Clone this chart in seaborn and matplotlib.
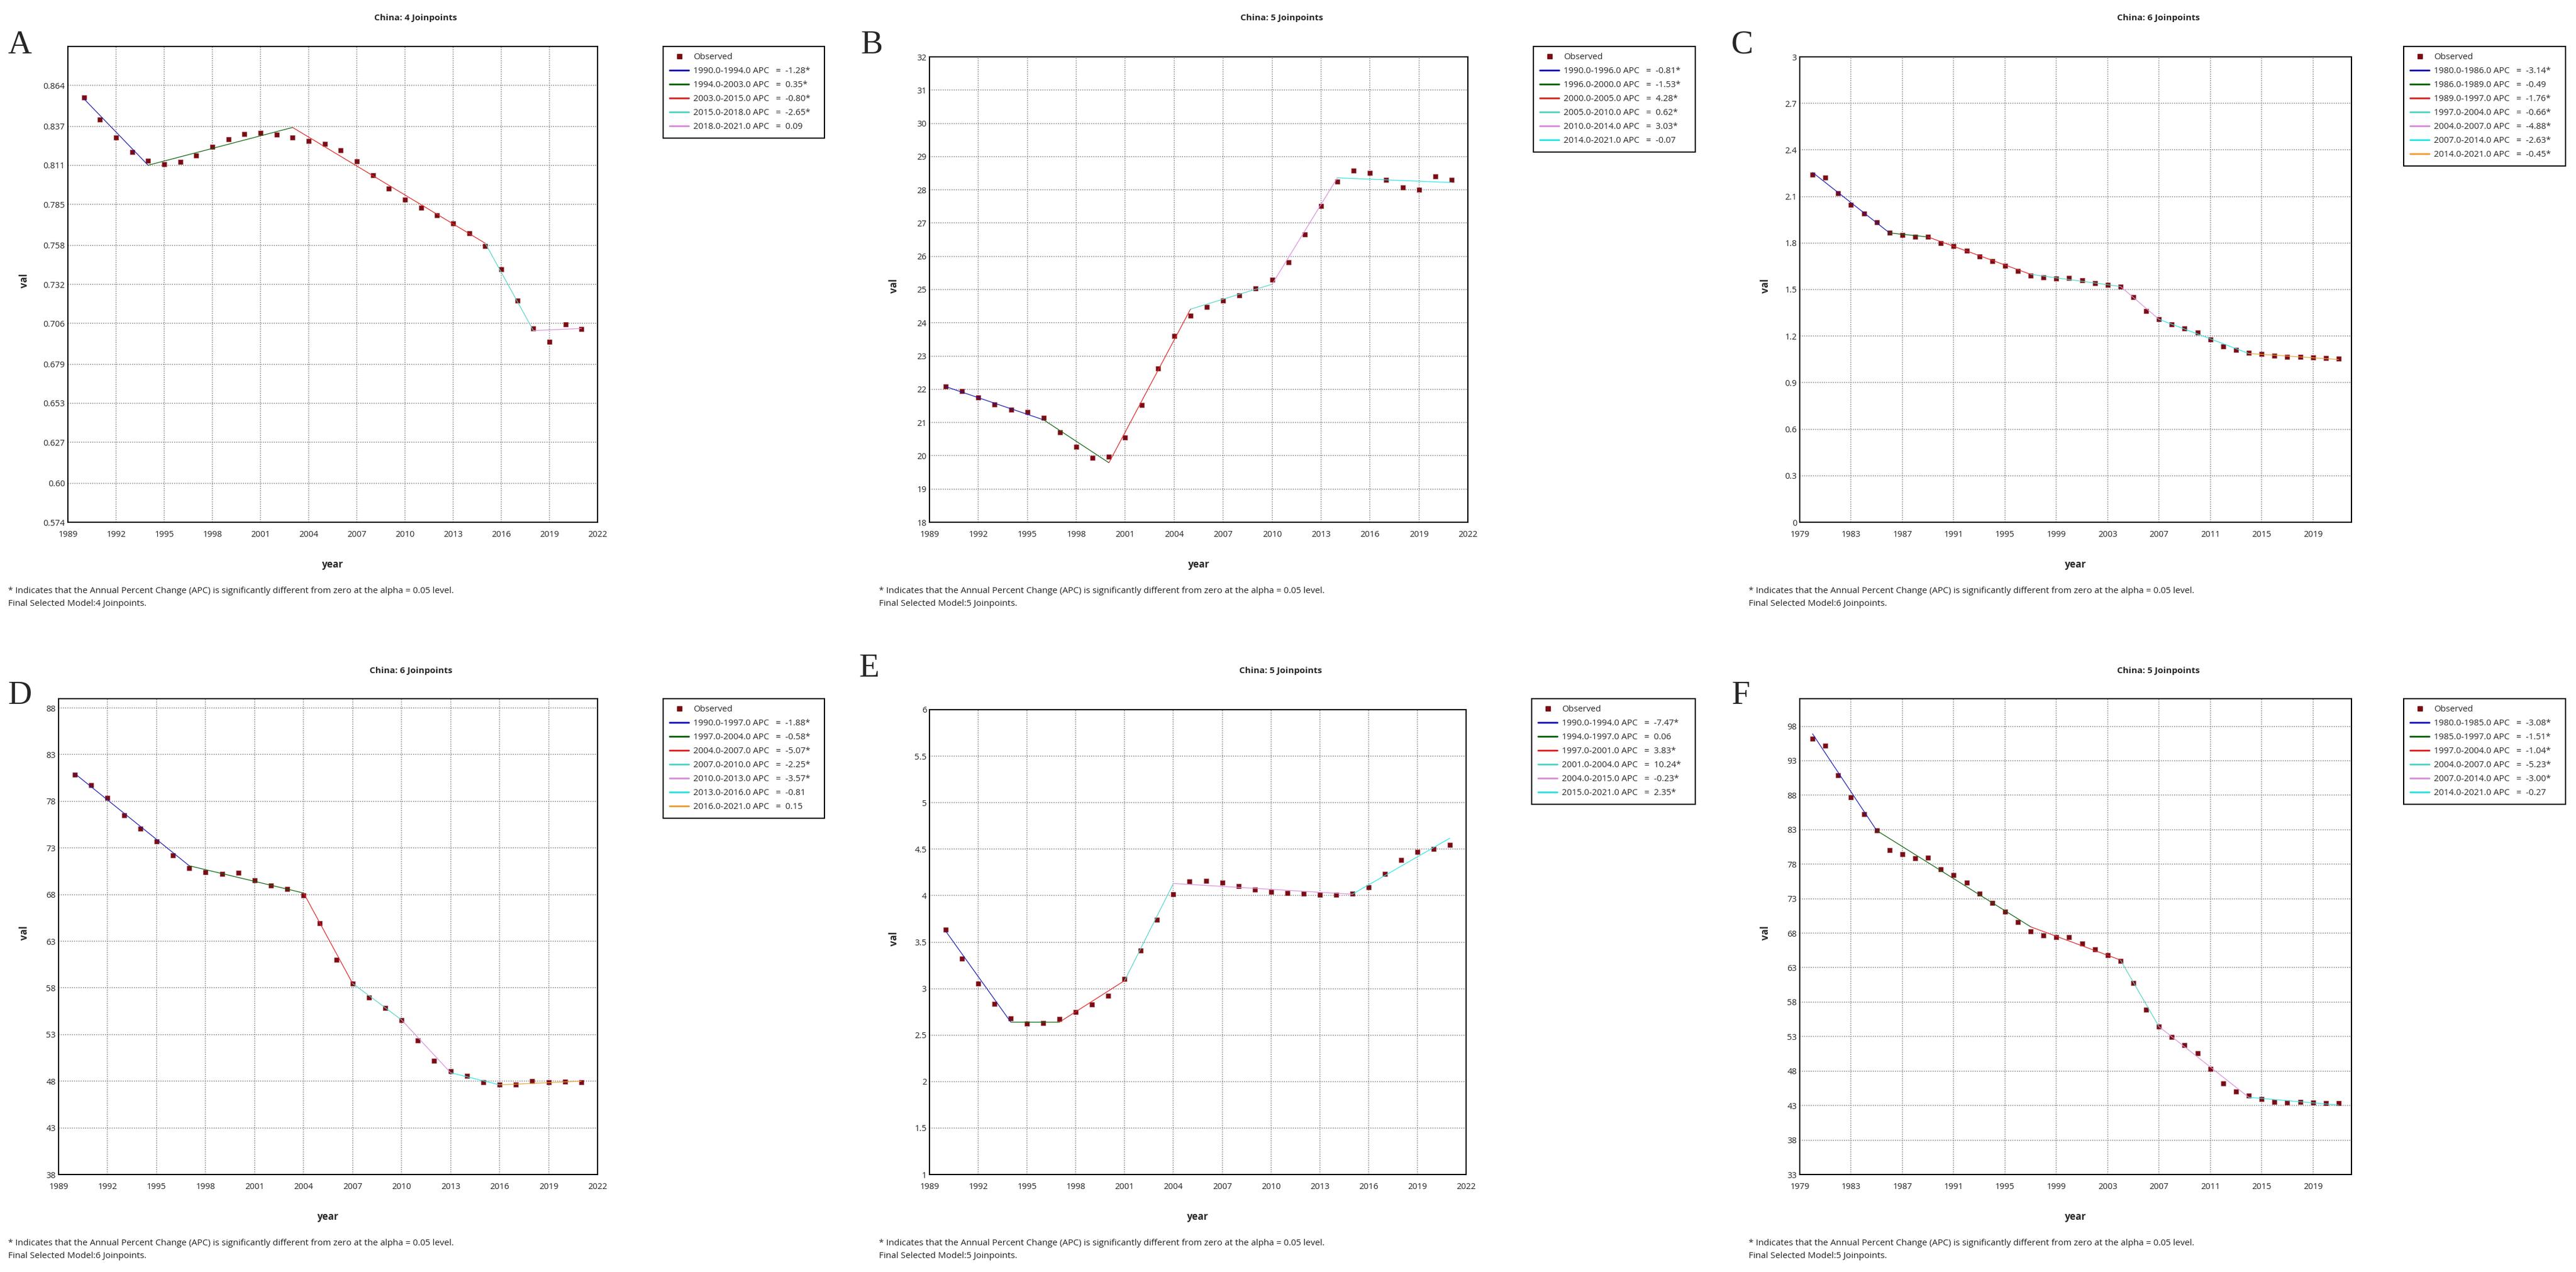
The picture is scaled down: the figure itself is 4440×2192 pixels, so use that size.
import numpy as np
import matplotlib
matplotlib.use("Agg")
import matplotlib.pyplot as plt
from matplotlib.lines import Line2D
import seaborn as sns

# ---- data ----
years_90 = list(range(1990, 2022))
years_80 = list(range(1980, 2022))

a_obs = [0.856, 0.8416, 0.8295, 0.820, 0.8141, 0.8117, 0.8133, 0.8176, 0.8233, 0.8284,
         0.8319, 0.8327, 0.8316, 0.8295, 0.8273, 0.8251, 0.8211, 0.8138, 0.8046, 0.7957,
         0.7882, 0.7828, 0.7777, 0.7725, 0.7661, 0.7574, 0.7421, 0.7213, 0.7027, 0.694,
         0.7056, 0.7024]
a_joins = [1990, 1994, 2003, 2015, 2018, 2021]
a_fit = [0.8552, 0.8111, 0.8362, 0.7593, 0.7013, 0.7027]
a_apc = [-1.28, 0.35, -0.80, -2.65, 0.09]
a_sig = [True, True, True, True, False]

b_obs = [22.09, 21.94, 21.75, 21.54, 21.38, 21.32, 21.14, 20.71, 20.27, 19.94,
         19.98, 20.54, 21.52, 22.63, 23.61, 24.22, 24.48, 24.66, 24.83, 25.03,
         25.30, 25.82, 26.65, 27.52, 28.24, 28.57, 28.51, 28.30, 28.08, 28.01,
         28.40, 28.30]
b_joins = [1990, 1996, 2000, 2005, 2010, 2014, 2021]
b_fit = [22.08, 21.08, 19.79, 24.41, 25.16, 28.36, 28.22]
b_apc = [-0.81, -1.53, 4.28, 0.62, 3.03, -0.07]
b_sig = [True, True, True, True, True, False]

c_obs = [2.242, 2.221, 2.121, 2.048, 1.991, 1.933, 1.865, 1.852, 1.841, 1.841,
         1.800, 1.781, 1.750, 1.713, 1.682, 1.653, 1.619, 1.588, 1.577, 1.572,
         1.575, 1.559, 1.543, 1.530, 1.520, 1.452, 1.363, 1.308, 1.274, 1.248,
         1.222, 1.180, 1.133, 1.112, 1.093, 1.083, 1.072, 1.067, 1.065, 1.062,
         1.059, 1.054]
c_joins = [1980, 1986, 1989, 1997, 2004, 2007, 2014, 2021]
c_fit = [2.255, 1.865, 1.839, 1.598, 1.520, 1.308, 1.088, 1.049]
c_apc = [-3.14, -0.49, -1.76, -0.66, -4.88, -2.63, -0.45]
c_sig = [True, False, True, True, True, True, True]

d_obs = [80.87, 79.74, 78.35, 76.52, 75.04, 73.70, 72.22, 70.87, 70.43, 70.22,
         70.35, 69.52, 69.00, 68.57, 67.91, 64.91, 61.04, 58.48, 57.00, 55.87,
         54.57, 52.39, 50.17, 49.09, 48.57, 47.91, 47.61, 47.65, 48.00, 47.91,
         47.96, 47.91]
d_joins = [1990, 1997, 2004, 2007, 2010, 2013, 2016, 2021]
d_fit = [80.96, 71.09, 68.17, 58.48, 54.57, 48.91, 47.61, 48.00]
d_apc = [-1.88, -0.58, -5.07, -2.25, -3.57, -0.81, 0.15]
d_sig = [True, True, True, True, True, False, False]

e_obs = [3.635, 3.321, 3.051, 2.833, 2.680, 2.623, 2.632, 2.675, 2.745, 2.829,
         2.924, 3.103, 3.408, 3.740, 4.015, 4.150, 4.159, 4.137, 4.102, 4.068,
         4.041, 4.028, 4.019, 4.010, 4.006, 4.019, 4.089, 4.232, 4.385, 4.468,
         4.503, 4.546]
e_joins = [1990, 1994, 1997, 2001, 2004, 2015, 2021]
e_fit = [3.618, 2.640, 2.640, 3.086, 4.131, 4.015, 4.618]
e_apc = [-7.47, 0.06, 3.83, 10.24, -0.23, 2.35]
e_sig = [True, False, True, True, True, True]

f_obs = [96.19, 95.19, 90.89, 87.71, 85.24, 82.88, 80.00, 79.41, 78.88, 78.94,
         77.23, 76.46, 75.29, 73.69, 72.34, 71.10, 69.63, 68.22, 67.69, 67.39,
         67.39, 66.45, 65.63, 64.80, 63.98, 60.80, 56.91, 54.44, 52.91, 51.79,
         50.55, 48.31, 46.25, 45.07, 44.48, 43.95, 43.48, 43.42, 43.54, 43.42,
         43.36, 43.36]
f_joins = [1980, 1985, 1997, 2004, 2007, 2014, 2021]
f_fit = [96.90, 82.88, 68.92, 64.10, 54.44, 44.19, 43.07]
f_apc = [-3.08, -1.51, -1.04, -5.23, -3.00, -0.27]
f_sig = [True, True, True, True, True, False]

# tick labels
a_yticks = [0.574, 0.600, 0.627, 0.653, 0.679, 0.706, 0.732, 0.758, 0.785, 0.811, 0.837, 0.864]
a_ylabels = ["0.574", "0.60", "0.627", "0.653", "0.679", "0.706", "0.732", "0.758",
             "0.785", "0.811", "0.837", "0.864"]
b_yticks = [18, 19, 20, 21, 22, 23, 24, 25, 26, 27, 28, 29, 30, 31, 32]
c_yticks = [0, 0.3, 0.6, 0.9, 1.2, 1.5, 1.8, 2.1, 2.4, 2.7, 3]
d_yticks = [38, 43, 48, 53, 58, 63, 68, 73, 78, 83, 88]
e_yticks = [1, 1.5, 2, 2.5, 3, 3.5, 4, 4.5, 5, 5.5, 6]
f_yticks = [33, 38, 43, 48, 53, 58, 63, 68, 73, 78, 83, 88, 93, 98]
xticks_90 = [1989, 1992, 1995, 1998, 2001, 2004, 2007, 2010, 2013, 2016, 2019, 2022]
xticks_80 = [1979, 1983, 1987, 1991, 1995, 1999, 2003, 2007, 2011, 2015, 2019]

n_joinpoints = [4, 5, 6, 6, 5, 5]
panel_letters = ["A", "B", "C", "D", "E", "F"]

seg_colors = ["#1a1ab4", "#0a640a", "#e02626", "#55d6c6", "#dc8fdc", "#2ee6e6", "#eea23a"]
obs_color = "#7a0c14"

# ---- layout (pixel positions in the 4440 x 2192 image) ----
W, H = 4440, 2192
panels = [
    dict(years=years_90, obs=a_obs, joins=a_joins, fit=a_fit, apc=a_apc, sig=a_sig,
         yt=a_yticks, ytl=a_ylabels, ylim=(0.574, 0.890), xt=xticks_90, xlim=(1989, 2022),
         ax=(117, 80, 1030, 900), leg=(1143, 80, 1421), col=0, row=0, yl=42, lx=14, ly=78),
    dict(years=years_90, obs=b_obs, joins=b_joins, fit=b_fit, apc=b_apc, sig=b_sig,
         yt=b_yticks, ytl=[str(v) for v in b_yticks], ylim=(18, 32), xt=xticks_90, xlim=(1989, 2022),
         ax=(1602, 98, 2530, 900), leg=(2643, 80, 2922), col=1, row=0, yl=61, lx=3, ly=78),
    dict(years=years_80, obs=c_obs, joins=c_joins, fit=c_fit, apc=c_apc, sig=c_sig,
         yt=c_yticks, ytl=[f"{v:g}" for v in c_yticks], ylim=(0, 3), xt=xticks_80, xlim=(1979, 2022),
         ax=(3102, 98, 4053, 900), leg=(4143, 80, 4422), col=2, row=0, yl=83, lx=24, ly=78),
    dict(years=years_90, obs=d_obs, joins=d_joins, fit=d_fit, apc=d_apc, sig=d_sig,
         yt=d_yticks, ytl=[str(v) for v in d_yticks], ylim=(38, 89), xt=xticks_90, xlim=(1989, 2022),
         ax=(101, 1204, 1030, 2024), leg=(1143, 1204, 1421), col=0, row=1, yl=42, lx=13, ly=1199),
    dict(years=years_90, obs=e_obs, joins=e_joins, fit=e_fit, apc=e_apc, sig=e_sig,
         yt=e_yticks, ytl=[f"{v:g}" for v in e_yticks], ylim=(1, 6), xt=xticks_90, xlim=(1989, 2022),
         ax=(1602, 1223, 2527, 2024), leg=(2640, 1204, 2922), col=1, row=1, yl=61, lx=0, ly=1152),
    dict(years=years_80, obs=f_obs, joins=f_joins, fit=f_fit, apc=f_apc, sig=f_sig,
         yt=f_yticks, ytl=[str(v) for v in f_yticks], ylim=(33, 102), xt=xticks_80, xlim=(1979, 2022),
         ax=(3102, 1204, 4053, 2024), leg=(4143, 1204, 4422), col=2, row=1, yl=83, lx=24, ly=1199),
]
title_y = [31, 1156]
foot_y = [1018, 1040, 2143, 2165]

sns.set_theme(style="white")
plt.rcParams["font.family"] = ["Open Sans", "DejaVu Sans"]

fig = plt.figure(figsize=(W / 100, H / 100), dpi=100)
fig.patch.set_facecolor("white")


def fx(x):
    return x / W


def fy(y):
    return 1 - y / H


for i, p in enumerate(panels):
    l, t, r, b = p["ax"]
    ax = fig.add_axes([fx(l), fy(b), (r - l) / W, (b - t) / H])
    ax.set_axisbelow(True)
    ax.grid(True, linestyle=(0, (1, 1.5)), color="#7a7a7a", linewidth=1.1)

    sns.scatterplot(x=p["years"], y=p["obs"], ax=ax, marker="s", s=36, color=obs_color,
                    edgecolor="#a0454a", linewidth=0.4, zorder=3, legend=False)
    for k in range(len(p["joins"]) - 1):
        sns.lineplot(x=p["joins"][k:k + 2], y=p["fit"][k:k + 2], ax=ax,
                     color=seg_colors[k], linewidth=0.9, zorder=4, legend=False)

    ax.set_xlim(*p["xlim"])
    ax.set_ylim(*p["ylim"])
    ax.set_xticks(p["xt"])
    ax.set_xticklabels([str(v) for v in p["xt"]])
    ax.set_yticks(p["yt"])
    ax.set_yticklabels(p["ytl"])
    ax.tick_params(axis="both", length=0, labelsize=10.5, colors="#222222")
    ax.tick_params(axis="x", pad=10)
    ax.tick_params(axis="y", pad=3.5)
    for sp in ax.spines.values():
        sp.set_color("black")
        sp.set_linewidth(1.5)

    ax.set_xlabel("year", fontsize=12, fontweight="bold", va="center")
    ax.xaxis.set_label_coords(0.5, -73 / (b - t))
    ax.set_ylabel("")
    ox = p["col"] * 1480
    fig.text(fx(ox + p["yl"]), fy((t + b) / 2 - 6), "val", rotation=90, fontsize=12,
             fontweight="bold", ha="center", va="center")

    # title, panel letter, footnotes
    fig.text(fx((l + r) / 2 + 143), fy(title_y[p["row"]]), f"China: {n_joinpoints[i]} Joinpoints",
             fontsize=11, fontweight="bold", ha="center", va="center")
    fig.text(fx(ox + p["lx"]), fy(p["ly"]), panel_letters[i],
             fontsize=41, family="Liberation Serif", ha="left", va="center")
    fx0 = ox + [14, 35, 54][p["col"]]
    fig.text(fx(fx0), fy(foot_y[2 * p["row"]]),
             "* Indicates that the Annual Percent Change (APC) is significantly different from zero at the alpha = 0.05 level.",
             fontsize=11, ha="left", va="center", color="#222222")
    fig.text(fx(fx0), fy(foot_y[2 * p["row"] + 1]),
             f"Final Selected Model:{n_joinpoints[i]} Joinpoints.",
             fontsize=11, ha="left", va="center", color="#222222")

    # legend
    handles = [Line2D([], [], marker="s", linestyle="none", color=obs_color, markersize=5.5)]
    labels = ["Observed"]
    for k in range(len(p["apc"])):
        handles.append(Line2D([], [], color=seg_colors[k], linewidth=2.2))
        star = "*" if p["sig"][k] else ""
        labels.append(f"{p['joins'][k]:.1f}-{p['joins'][k + 1]:.1f} APC   =  {p['apc'][k]:.2f}{star}")
    ll, lt, lr = p["leg"]
    leg = fig.legend(handles, labels, loc="upper left", mode="expand",
                     bbox_to_anchor=(fx(ll), fy(lt), (lr - ll) / W, 0), borderaxespad=0,
                     fontsize=10.8, frameon=True, fancybox=False, framealpha=1,
                     handlelength=2.2, handletextpad=0.5, labelspacing=0.6, borderpad=0.75)
    leg.get_frame().set_edgecolor("black")
    leg.get_frame().set_linewidth(1.5)

fig.savefig("out.png", dpi=100, facecolor="white")
